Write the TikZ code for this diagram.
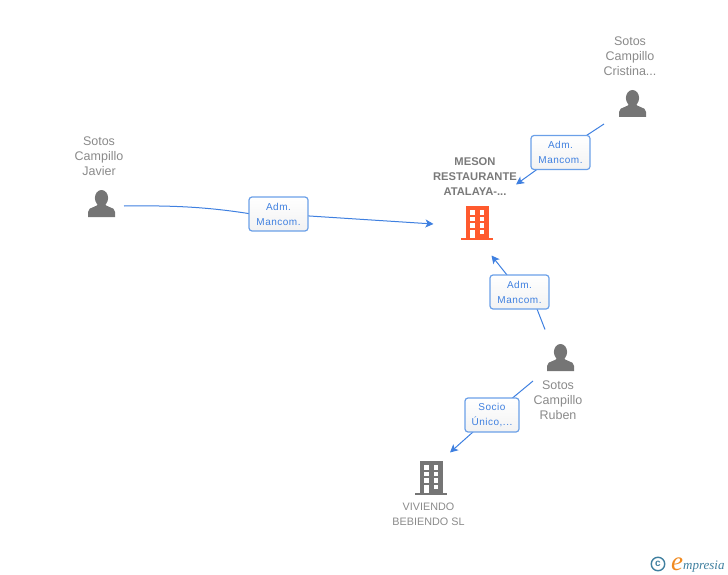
\documentclass[tikz,border=0pt]{standalone}
\usepackage{fontspec}
\setmainfont{Liberation Sans}
\newfontfamily\logofont{Liberation Serif}
\newfontfamily\spacedfont[LetterSpace=5]{Liberation Sans}
\usetikzlibrary{arrows.meta}
\definecolor{nametext}{HTML}{8A8A8A}
\definecolor{titletext}{HTML}{7A7A7A}
\definecolor{icongrey}{HTML}{757575}
\definecolor{iconorange}{HTML}{FF5A2E}
\definecolor{linkblue}{HTML}{3F80E0}
\definecolor{boxedge}{HTML}{6BA0E8}
\definecolor{logoteal}{HTML}{3F7F9F}
\definecolor{logoorange}{HTML}{F08A20}
\tikzset{
  x=1pt,y=-1pt,
  nametag/.style={font=\fontsize{12.5}{15}\selectfont,text=nametext,align=center,inner sep=0pt},
  titletag/.style={font=\fontsize{11.2}{15}\selectfont\bfseries,text=titletext,align=center,inner sep=0pt},
  linkbox/.style={draw=boxedge,line width=1.2pt,rounded corners=3pt,top color=white,bottom color=black!5,
    text=linkblue,font=\spacedfont\fontsize{10}{15}\selectfont,align=center,inner sep=0pt,minimum height=34pt},
  link/.style={draw=linkblue,line width=1pt},
  tip/.style={link,-{Stealth[length=8pt,width=8pt,inset=2pt]}},
  pics/personicon/.style={code={
    \fill[icongrey] (0,-5.5) ellipse [x radius=6.6,y radius=8];
    \fill[icongrey] (-13.5,13.5) -- (-13.5,8.5) .. controls (-13.5,5.5) and (-11,4.5) .. (-8,3.5)
      .. controls (-5,2.5) and (-4,2) .. (-3.5,0) -- (3.5,0) .. controls (4,2) and (5,2.5) .. (8,3.5)
      .. controls (11,4.5) and (13.5,5.5) .. (13.5,8.5) -- (13.5,13.5) -- cycle;
  }},
  pics/blockicon/.style={code={
    \fill[#1] (-11,-17) rectangle (11.5,15.5);
    \fill[#1] (-16,15) rectangle (16,17);
    \foreach \yy in {-13,-6.5,0,6.5}{
      \fill[white] (-7,\yy) rectangle (-2.5,\yy+4.5);
      \fill[white] (2.5,\yy) rectangle (7,\yy+4.5);
    }
    \fill[white] (-7,6.5) rectangle (-2.5,15);
  }}
}
\begin{document}
\begin{tikzpicture}
\useasboundingbox (0,0) rectangle (728,575);
% entities
\pic at (632.5,103.5) {personicon};
\pic at (101.5,203.5) {personicon};
\pic at (560.5,357.5) {personicon};
\pic at (477,223) {blockicon=iconorange};
\pic at (431,478) {blockicon=icongrey};
\node[nametag] (cristina) at (630,56) {Sotos\\Campillo\\Cristina...};
\node[nametag] (javier) at (99,156) {Sotos\\Campillo\\Javier};
\node[nametag] (ruben) at (558,400) {Sotos\\Campillo\\Ruben};
\node[titletag] (meson) at (475,177) {MESON\\RESTAURANTE\\ATALAYA-...};
\node[nametag,font=\fontsize{10.8}{15}\selectfont] (viviendo) at (428.5,514.5) {VIVIENDO\\BEBIENDO SL};
% link label positions
\coordinate (c1) at (278.5,214);
\coordinate (c2) at (560.5,152.5);
\coordinate (c3) at (519.5,292);
\coordinate (c4) at (492,415);
% connector ends
\coordinate (a1) at (124,206);
\coordinate (z1) at (433.5,224);
\coordinate (a2) at (604,124);
\coordinate (z2) at (516,184.5);
\coordinate (a3) at (545,329.5);
\coordinate (z3) at (491.5,255.5);
\coordinate (a4) at (533,381);
\coordinate (z4) at (450,452.5);
% connectors, all running under the label boxes
\draw[link] (a1) .. controls (170,205.5) and (215,206) .. ([yshift=-5pt]c1);
\draw[tip] (c1) -- (z1);
\draw[link] (a2) -- (c2);
\draw[tip] (c2) -- (z2);
\draw[link] (a3) -- (537,309);
\draw[tip] (507,275) -- (z3);
\draw[link] (a4) -- (c4);
\draw[tip] (c4) -- (z4);
% link labels
\node[linkbox,minimum width=59pt] (b1) at (c1) {Adm.\\Mancom.};
\node[linkbox,minimum width=59pt] (b2) at (c2) {Adm.\\Mancom.};
\node[linkbox,minimum width=59pt] (b3) at (c3) {Adm.\\Mancom.};
\node[linkbox,minimum width=54pt] (b4) at (c4) {Socio\\Único,...};
% logo
\node[draw=logoteal,line width=1.4pt,circle,minimum size=13.5pt,inner sep=0pt,text=logoteal,font=\fontsize{10}{10}\selectfont\bfseries] (copy) at (658,564) {c};
\node[anchor=base west,inner sep=0pt,text=logoorange,font=\logofont\itshape\fontsize{27}{27}\selectfont] (logoe) at (671,570) {e};
\node[anchor=base west,inner sep=0pt,text=logoteal,font=\logofont\itshape\fontsize{13}{13}\selectfont] (logotext) at (683,569) {mpresia};
\end{tikzpicture}
\end{document}
